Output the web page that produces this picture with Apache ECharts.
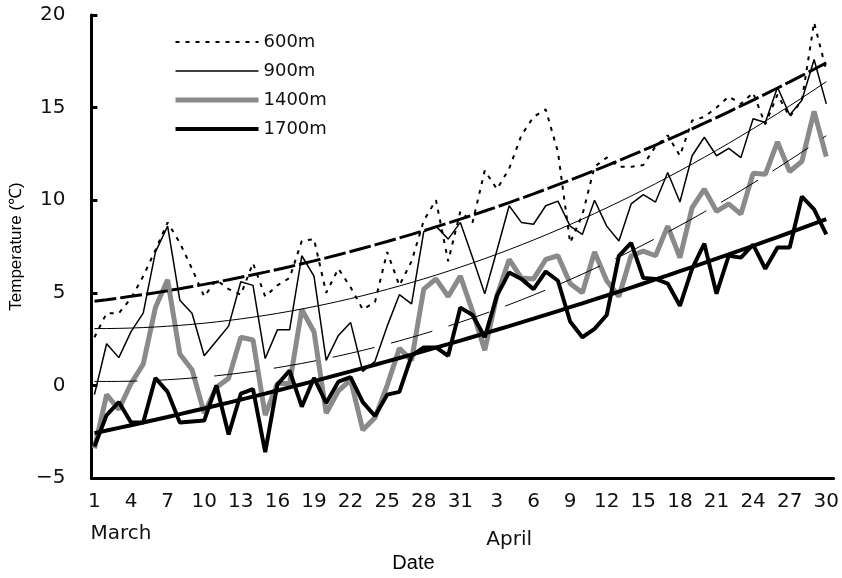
<!DOCTYPE html>
<html>
<head>
<meta charset="utf-8">
<script src="https://cdn.jsdelivr.net/npm/echarts@6/dist/echarts.min.js"></script>
<style>
  html, body { margin: 0; padding: 0; background: #fff; }
  #chart { width: 842px; height: 578px; }
</style>
</head>
<body>
<div id="chart"></div>
<script>
// Daily dates, 1 March to 30 April
const dayOfMonth = [
  1, 2, 3, 4, 5, 6, 7, 8, 9, 10, 11, 12, 13, 14, 15, 16, 17, 18, 19, 20,
  21, 22, 23, 24, 25, 26, 27, 28, 29, 30, 31,
  1, 2, 3, 4, 5, 6, 7, 8, 9, 10, 11, 12, 13, 14, 15, 16, 17, 18, 19, 20,
  21, 22, 23, 24, 25, 26, 27, 28, 29, 30
];
const monthNames = ['March', 'April'];
const seriesNames = ['600m', '900m', '1400m', '1700m'];
const yTicks = [-5, 0, 5, 10, 15, 20];

// Daily mean temperature (°C) by elevation
const temp600 = [
  2.6, 3.9, 3.9, 4.7, 5.9, 7.3, 8.8, 7.7, 6.3, 4.8,
  5.7, 5.2, 4.9, 6.6, 4.8, 5.4, 5.8, 7.8, 7.9, 5.0,
  6.3, 5.3, 4.1, 4.5, 7.2, 5.4, 6.7, 8.9, 10.0, 6.7,
  9.4, 8.8, 11.6, 10.6, 11.7, 13.5, 14.5, 14.9, 12.6, 7.7,
  9.2, 11.8, 12.3, 11.8, 11.8, 11.9, 12.9, 13.5, 12.4, 14.3,
  14.5, 15.0, 15.6, 15.2, 15.8, 14.1, 15.7, 14.5, 15.4, 19.6, 17.0
];
const temp900 = [
  -0.5, 2.25, 1.5, 2.9, 3.9, 7.2, 8.6, 4.6, 3.9, 1.6,
  2.4, 3.2, 5.6, 5.4, 1.45, 3.0, 3.0, 7.0, 5.9, 1.35,
  2.7, 3.4, 0.75, 1.3, 3.2, 4.9, 4.4, 8.3, 8.6, 7.9,
  8.8, 6.9, 4.95, 7.3, 9.7, 8.8, 8.7, 9.7, 9.95, 8.6,
  8.15, 10.0, 8.6, 7.8, 9.8, 10.3, 9.9, 11.5, 9.9, 12.4,
  13.4, 12.4, 12.8, 12.3, 14.4, 14.2, 16.1, 14.6, 15.4, 17.6, 15.2
];
const temp1400 = [
  -3.4, -0.5, -1.3, 0.1, 1.15, 4.2, 5.7, 1.7, 0.85, -1.5,
  -0.1, 0.38, 2.6, 2.45, -1.6, 0.1, 0.1, 4.1, 2.9, -1.5,
  -0.3, 0.3, -2.4, -1.75, 0.0, 2.0, 1.35, 5.2, 5.75, 4.8,
  5.9, 4.0, 1.9, 4.85, 6.8, 5.8, 5.75, 6.8, 7.0, 5.5,
  5.0, 7.2, 5.65, 4.8, 7.0, 7.25, 7.0, 8.6, 6.9, 9.6,
  10.6, 9.4, 9.8, 9.25, 11.45, 11.4, 13.15, 11.55, 12.1, 14.8, 12.35
];
const temp1700 = [
  -3.3, -1.6, -0.9, -2.0, -2.0, 0.4, -0.35, -2.0, -1.95, -1.9,
  0.0, -2.65, -0.45, -0.2, -3.6, 0.05, 0.8, -1.15, 0.4, -0.95,
  0.2, 0.45, -0.9, -1.65, -0.5, -0.35, 1.6, 2.05, 2.05, 1.6,
  4.2, 3.8, 2.6, 4.85, 6.1, 5.75, 5.2, 6.15, 5.65, 3.45,
  2.6, 3.05, 3.8, 7.0, 7.7, 5.8, 5.75, 5.5, 4.3, 6.3,
  7.65, 4.95, 7.0, 6.9, 7.6, 6.3, 7.45, 7.45, 10.2, 9.5, 8.15
];

// Second-order polynomial least-squares trend of a daily series
function quadraticTrend(ys) {
  const n = ys.length;
  const S = [0, 0, 0, 0, 0], T = [0, 0, 0];
  for (let i = 0; i < n; i++) {
    let p = 1;
    for (let k = 0; k < 5; k++) { S[k] += p; if (k < 3) T[k] += p * ys[i]; p *= i; }
  }
  const M = [[S[0], S[1], S[2], T[0]], [S[1], S[2], S[3], T[1]], [S[2], S[3], S[4], T[2]]];
  for (let c = 0; c < 3; c++) {
    for (let r = c + 1; r < 3; r++) {
      const f = M[r][c] / M[c][c];
      for (let k = c; k < 4; k++) M[r][k] -= f * M[c][k];
    }
  }
  const coef = [0, 0, 0];
  for (let r = 2; r >= 0; r--) {
    let s = M[r][3];
    for (let k = r + 1; k < 3; k++) s -= M[r][k] * coef[k];
    coef[r] = s / M[r][r];
  }
  return ys.map((_, i) => [i, coef[0] + coef[1] * i + coef[2] * i * i]);
}

const pairs = ys => ys.map((v, i) => [i, v]);
const tickIdx = dayOfMonth.map((_, i) => i).filter(i => i % 3 === 0);

const labelFont = '"DejaVu Sans", sans-serif';
const sans = '"Liberation Sans", Arial, sans-serif';

const chart = echarts.init(document.getElementById('chart'), null, { renderer: 'canvas' });

function lineSeries(name, ys, style, z) {
  return {
    name, type: 'line', data: pairs(ys), symbol: 'none', showSymbol: false,
    itemStyle: { color: style.color },
    lineStyle: style, z, silent: true, animation: false
  };
}
function trendSeries(ys, style, z) {
  return {
    type: 'line', data: quadraticTrend(ys), symbol: 'none', showSymbol: false,
    lineStyle: style, z, silent: true, animation: false
  };
}

chart.setOption({
  animation: false,
  backgroundColor: '#fff',
  grid: { left: 90, right: 7, top: 15, bottom: 97, containLabel: false },
  legend: {
    orient: 'vertical', left: 173, top: 33, padding: 0,
    itemWidth: 83, itemHeight: 14, itemGap: 11,
    itemStyle: { opacity: 0 },
    lineStyle: { width: 'inherit', type: 'inherit', color: 'inherit' },
    textStyle: { fontFamily: labelFont, fontSize: 18, color: '#111' },
    data: seriesNames, selectedMode: false
  },
  xAxis: {
    type: 'value', min: -0.25, max: 60.6,
    name: 'Date', nameLocation: 'middle', nameGap: 75,
    nameTextStyle: { fontFamily: sans, fontSize: 20, color: '#000', padding: [0, 98, 0, 0] },
    axisLine: { onZero: false, lineStyle: { color: '#000', width: 3 } },
    axisTick: { show: false },
    splitLine: { show: false },
    axisLabel: {
      customValues: tickIdx, margin: 14,
      fontFamily: labelFont, fontSize: 20, color: '#111',
      formatter: v => String(dayOfMonth[Math.round(v)])
    }
  },
  yAxis: {
    type: 'value', min: yTicks[0], max: yTicks[yTicks.length - 1], interval: 5,
    name: 'Temperature (℃)', nameLocation: 'middle', nameGap: 60, nameRotate: 90,
    nameTextStyle: { fontFamily: sans, fontSize: 17, color: '#000' },
    axisLine: { show: true, onZero: false, lineStyle: { color: '#000', width: 3 } },
    axisTick: { show: true, inside: true, length: 6, lineStyle: { color: '#000', width: 3 } },
    splitLine: { show: false },
    axisLabel: {
      margin: 26, fontFamily: labelFont, fontSize: 20, color: '#111',
      formatter: v => (v < 0 ? '\u2212' + Math.abs(v) : String(v))
    }
  },
  series: [
    lineSeries('600m', temp600, { color: '#000', width: 2, type: [4, 6] }, 2),
    lineSeries('900m', temp900, { color: '#000', width: 1.5 }, 3),
    lineSeries('1400m', temp1400, { color: '#8a8a8a', width: 5 }, 4),
    lineSeries('1700m', temp1700, { color: '#000', width: 4 }, 5),
    trendSeries(temp600, { color: '#000', width: 3, type: [22, 4] }, 6),
    trendSeries(temp900, { color: '#000', width: 1 }, 6),
    trendSeries(temp1400, { color: '#000', width: 1, type: [43, 17] }, 6),
    trendSeries(temp1700, { color: '#000', width: 4 }, 6)
  ]
});

// Month names under the day labels
const monthAnchor = [
  { text: monthNames[0], idx: 0, align: 'left', dx: -4, top: 524 },
  { text: monthNames[1], idx: 34, align: 'center', dx: 0, top: 530 }
];
chart.setOption({
  graphic: monthAnchor.map(m => ({
    type: 'text',
    x: chart.convertToPixel({ xAxisIndex: 0 }, m.idx) + m.dx,
    y: m.top,
    style: { text: m.text, fontFamily: labelFont, fontSize: 20, fill: '#111', align: m.align }
  }))
});
</script>
</body>
</html>
